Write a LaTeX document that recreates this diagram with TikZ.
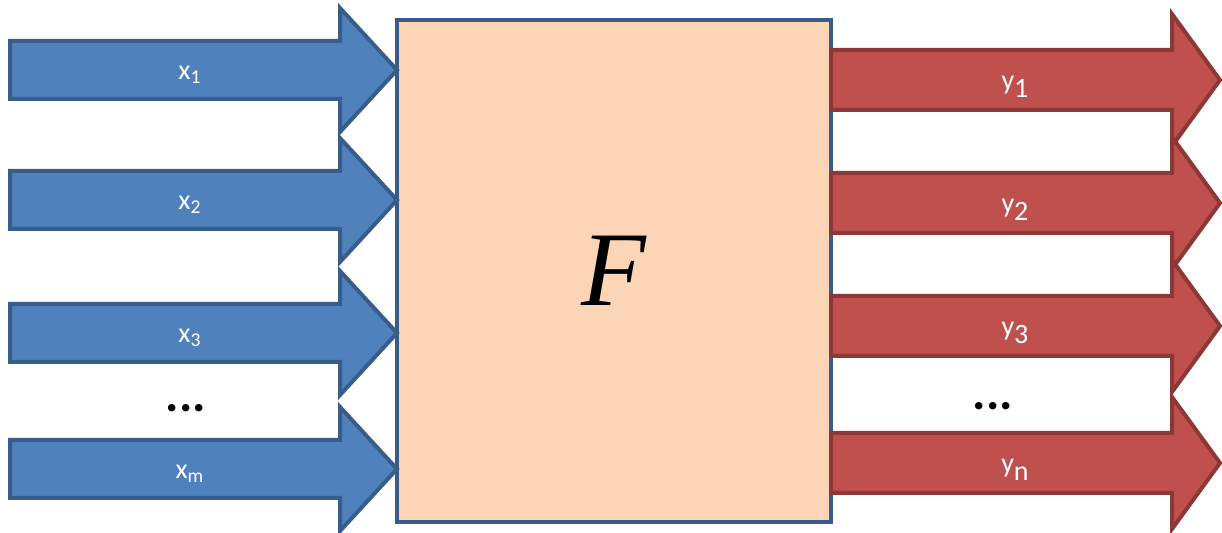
\documentclass[tikz,border=0pt]{standalone}
\usepackage{fontspec}
\setmainfont{Carlito}
\newfontfamily\ffont{Liberation Serif}
\usepackage{xcolor}
\usetikzlibrary{positioning}

\definecolor{inblue}{HTML}{4F81BD}
\definecolor{inedge}{HTML}{385D8A}
\definecolor{outred}{HTML}{C0504D}
\definecolor{outedge}{HTML}{8C3836}
\definecolor{boxfill}{HTML}{FBD5B5}

\tikzset{
  %% Transfer block
  fbox/.style={
    rectangle, draw=inedge, fill=boxfill,
    line width=1.75pt, inner sep=0pt,
    minimum width=217pt, minimum height=251pt
  },
  %% Fat arrows
  inarrow/.style={draw=inedge, fill=inblue, line width=2pt, line join=miter},
  outarrow/.style={draw=outedge, fill=outred, line width=2pt, line join=miter},
  %% Labels
  lab/.style={text=white, font=\fontsize{14}{16}\selectfont, inner sep=0pt},
  dots/.style={font=\fontsize{25}{28}\selectfont\bfseries, inner sep=0pt, anchor=base},
}

\begin{document}
\begin{tikzpicture}[x=0.5pt, y=-0.5pt]
  \useasboundingbox (0,0) rectangle (1222,533);

  %% Function block
  \node[fbox] (F) at (614,271)
    {\raisebox{-3pt}{\ffont\fontsize{53}{60}\selectfont\itshape F}};

  %% Inputs
  \foreach \c/\lab/\nm in {70/1/x1, 200/2/x2, 333/3/x3, 469/m/xm} {
    \draw[inarrow] (10,\c-29) -- (340,\c-29) -- (340,\c-62) -- (397,\c)
      -- (340,\c+62) -- (340,\c+29) -- (10,\c+29) -- cycle;
    \node[lab] (\nm) at (190,\c+5) {x\textsubscript{\lab}};
  }
  \node[dots] (xdots) at (186,412) {...};

  %% Outputs
  \foreach \c/\lab/\nm in {80/1/y1, 203/2/y2, 326/3/y3, 463/n/yn} {
    \draw[outarrow] (831,\c-30) -- (1172,\c-30) -- (1172,\c-66) -- (1220,\c)
      -- (1172,\c+66) -- (1172,\c+30) -- (831,\c+30) -- cycle;
    \node[lab] (\nm) at (1015,\c+7) {y\raisebox{-0.3em}{\lab}};
  }
  \node[dots] (ydots) at (993,410) {...};

\end{tikzpicture}
\end{document}
